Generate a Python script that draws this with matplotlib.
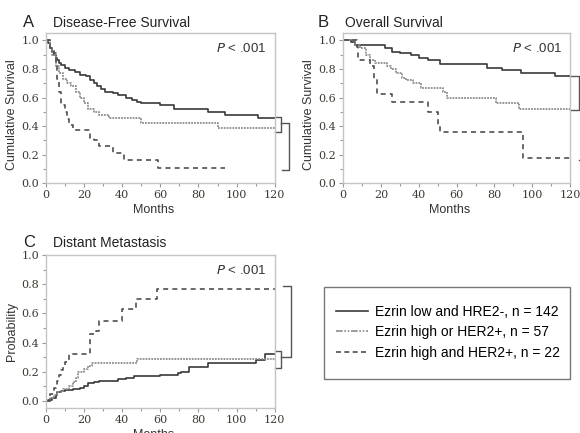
import matplotlib
matplotlib.use("Agg")
import matplotlib.pyplot as plt
from matplotlib.lines import Line2D
from matplotlib.patches import Rectangle

# ---------------- data ----------------
groups = ["Ezrin low and HRE2-, n = 142",
          "Ezrin high or HER2+, n = 57",
          "Ezrin high and HER2+, n = 22"]

# Panel A: Disease-free survival
dfs_low_t = [0, 1, 2, 3, 4, 5, 6, 7, 8, 10, 12, 15, 18, 21, 23, 25, 27, 29, 31, 35, 38, 42, 45, 48, 50, 60, 67, 85, 94, 111, 120]
dfs_low_v = [1, 0.98, 0.95, 0.92, 0.90, 0.88, 0.86, 0.84, 0.83, 0.81, 0.79, 0.78, 0.76, 0.75, 0.72, 0.70, 0.68, 0.66, 0.64, 0.63, 0.62, 0.60, 0.58, 0.57, 0.56, 0.55, 0.52, 0.50, 0.48, 0.46, 0.46]
dfs_mid_t = [0, 2, 3, 5, 7, 9, 11, 13, 16, 18, 20, 22, 25, 28, 33, 50, 90, 120]
dfs_mid_v = [1, 0.95, 0.9, 0.82, 0.77, 0.73, 0.70, 0.68, 0.64, 0.60, 0.56, 0.52, 0.50, 0.48, 0.46, 0.42, 0.39, 0.39]
dfs_high_t = [0, 2, 4, 5, 6, 7, 8, 10, 11, 12, 14, 23, 25, 28, 35, 41, 59, 94]
dfs_high_v = [1, 0.95, 0.91, 0.82, 0.73, 0.64, 0.55, 0.50, 0.45, 0.41, 0.37, 0.32, 0.30, 0.26, 0.21, 0.16, 0.11, 0.11]

# Panel B: Overall survival
os_low_t = [0, 4, 6, 10, 22, 26, 30, 36, 40, 45, 51, 76, 84, 94, 112, 120]
os_low_v = [1, 0.99, 0.97, 0.965, 0.95, 0.92, 0.91, 0.90, 0.88, 0.86, 0.835, 0.81, 0.79, 0.77, 0.75, 0.75]
os_mid_t = [0, 6, 9, 12, 14, 17, 23, 25, 28, 31, 33, 37, 41, 53, 55, 81, 93, 120]
os_mid_v = [1, 0.97, 0.95, 0.90, 0.86, 0.84, 0.82, 0.80, 0.77, 0.74, 0.72, 0.70, 0.67, 0.64, 0.60, 0.56, 0.52, 0.52]
os_high_t = [0, 7, 8, 14, 16, 18, 26, 45, 50, 51, 95, 120]
os_high_v = [1, 0.955, 0.864, 0.818, 0.727, 0.625, 0.57, 0.50, 0.41, 0.36, 0.18, 0.18]

# Panel C: Distant metastasis
dm_low_t = [0, 1, 3, 5, 6, 8, 10, 14, 18, 20, 22, 25, 28, 38, 42, 46, 60, 69, 71, 75, 85, 110, 115, 120]
dm_low_v = [0, 0.01, 0.02, 0.04, 0.06, 0.07, 0.075, 0.08, 0.09, 0.10, 0.12, 0.13, 0.14, 0.15, 0.16, 0.17, 0.18, 0.19, 0.20, 0.23, 0.26, 0.28, 0.32, 0.32]
dm_mid_t = [0, 2, 4, 6, 9, 12, 14, 16, 17, 20, 22, 24, 48, 120]
dm_mid_v = [0, 0.02, 0.04, 0.06, 0.08, 0.10, 0.13, 0.16, 0.20, 0.22, 0.24, 0.26, 0.29, 0.29]
dm_high_t = [0, 2, 4, 5, 6, 7, 8, 9, 10, 12, 23, 26, 28, 40, 47, 58, 120]
dm_high_v = [0, 0.045, 0.09, 0.11, 0.14, 0.18, 0.21, 0.23, 0.27, 0.32, 0.46, 0.48, 0.55, 0.63, 0.70, 0.77, 0.77]

xticks = [0, 20, 40, 60, 80, 100, 120]
yticks = [0.0, 0.2, 0.4, 0.6, 0.8, 1.0]

# ---------------- style ----------------
styles = [dict(color="#3a3a3a", lw=1.2, ls="-"),
          dict(color="#8c8c8c", lw=1.3, ls=(0, (1, 0.6))),
          dict(color="#4f4f4f", lw=1.2, ls=(0, (3, 2.5)))]
legend_ls = ["-", (0, (4, 1, 1, 1, 1, 1)), (0, (3, 2))]
spine_c = "#c4c4c4"
tick_c = "#3d3a33"
sans = ["Liberation Sans", "DejaVu Sans"]

fig = plt.figure(figsize=(5.8, 4.33), dpi=100)
fig.patch.set_facecolor("white")

W, H = 580.0, 433.0
def frac(l, t, r, b):
    return [l / W, 1 - b / H, (r - l) / W, (b - t) / H]

axA = fig.add_axes(frac(46, 33.3, 274.7, 183.3))
axB = fig.add_axes(frac(343.3, 33.3, 570, 183.3))
axC = fig.add_axes(frac(46, 255, 274.7, 408.3))

panels = [
    (axA, [(dfs_low_t, dfs_low_v), (dfs_mid_t, dfs_mid_v), (dfs_high_t, dfs_high_v)],
     (0, 1.05), "Cumulative Survival", (-0.122, 0.46)),
    (axB, [(os_low_t, os_low_v), (os_mid_t, os_mid_v), (os_high_t, os_high_v)],
     (0, 1.05), "Cumulative Survival", (-0.125, 0.46)),
    (axC, [(dm_low_t, dm_low_v), (dm_mid_t, dm_mid_v), (dm_high_t, dm_high_v)],
     (-0.05, 1.0), "Probability", (-0.122, 0.5)),
]

for ax, series, ylim, ylab, ylc in panels:
    for (t, v), st in zip(series, styles):
        ax.step(t, v, where="post", color=st["color"], lw=st["lw"], linestyle=st["ls"])
    ax.set_xlim(0, 120)
    ax.set_ylim(*ylim)
    ax.set_xticks(xticks)
    ax.set_yticks(yticks)
    ax.set_xticks(range(10, 120, 20), minor=True)
    ax.set_yticks([0.1, 0.3, 0.5, 0.7, 0.9], minor=True)
    ax.set_yticklabels([f"{y:.1f}" for y in yticks])
    for s in ax.spines.values():
        s.set_color(spine_c)
        s.set_linewidth(1.0)
    ax.tick_params(which="both", direction="out", color="#9a9a9a", width=0.8)
    ax.tick_params(which="major", length=3, pad=2, labelsize=8, labelcolor=tick_c)
    ax.tick_params(which="minor", length=2)
    for lab in ax.get_xticklabels() + ax.get_yticklabels():
        lab.set_fontfamily("DejaVu Serif")
    ax.set_xlabel("Months", fontsize=9, family=sans, color="#333333")
    ax.set_ylabel(ylab, fontsize=9, family=sans, color="#333333")
    ax.xaxis.set_label_coords(0.47, -0.135)
    ax.yaxis.set_label_coords(*ylc)
    ax.text(0.965, 0.875, r"$\it{P}$" + " < .001", transform=ax.transAxes,
            ha="right", va="baseline", fontsize=9.5, family=sans, color="#333333")

# Panel letters and titles
for (xl, xt, yb, letter, title) in [(23, 53, 27, "A", "Disease-Free Survival"),
                                    (318, 345, 27, "B", "Overall Survival"),
                                    (23, 53, 247, "C", "Distant Metastasis")]:
    fig.text(xl / W, 1 - yb / H, letter, fontsize=12, family=sans, va="baseline", color="#222222")
    fig.text(xt / W, 1 - yb / H, title, fontsize=10, family=sans, va="baseline", color="#222222")

# Brackets (comparison markers beyond the right axis)
bk = dict(color="#555555", lw=1.0, clip_on=False)
# A
axA.plot([120.4, 123.3, 123.3, 120.4], [0.463, 0.463, 0.362, 0.362], **bk)
axA.plot([123.3, 127.7, 127.7, 123.8], [0.42, 0.42, 0.093, 0.093], **bk)
# B
axB.plot([120.2, 124.9, 124.9, 120.2], [0.748, 0.748, 0.514, 0.514], **bk)
axB.plot([124.5, 132], [0.165, 0.165], **bk)
# C
axC.plot([120.4, 123.3, 123.3, 120.4], [0.34, 0.34, 0.226, 0.226], **bk)
axC.plot([123.3, 128.6, 128.6, 124.2], [0.30, 0.30, 0.788, 0.788], **bk)

# Legend
handles = [Line2D([], [], color=st["color"], lw=1.2, linestyle=ls)
           for st, ls in zip(styles, legend_ls)]
fig.legend(handles, groups, loc="upper left", bbox_to_anchor=(336 / W, 1 - 305 / H),
           frameon=False, borderpad=0, borderaxespad=0, handlelength=2.3,
           handletextpad=0.5, labelspacing=0.45, prop=dict(family=sans, size=10))
fig.add_artist(Rectangle((324 / W, 1 - 379 / H), 246 / W, 92 / H, transform=fig.transFigure,
                         fill=False, edgecolor="#777777", lw=1.0))

fig.savefig("out.png", dpi=100)
